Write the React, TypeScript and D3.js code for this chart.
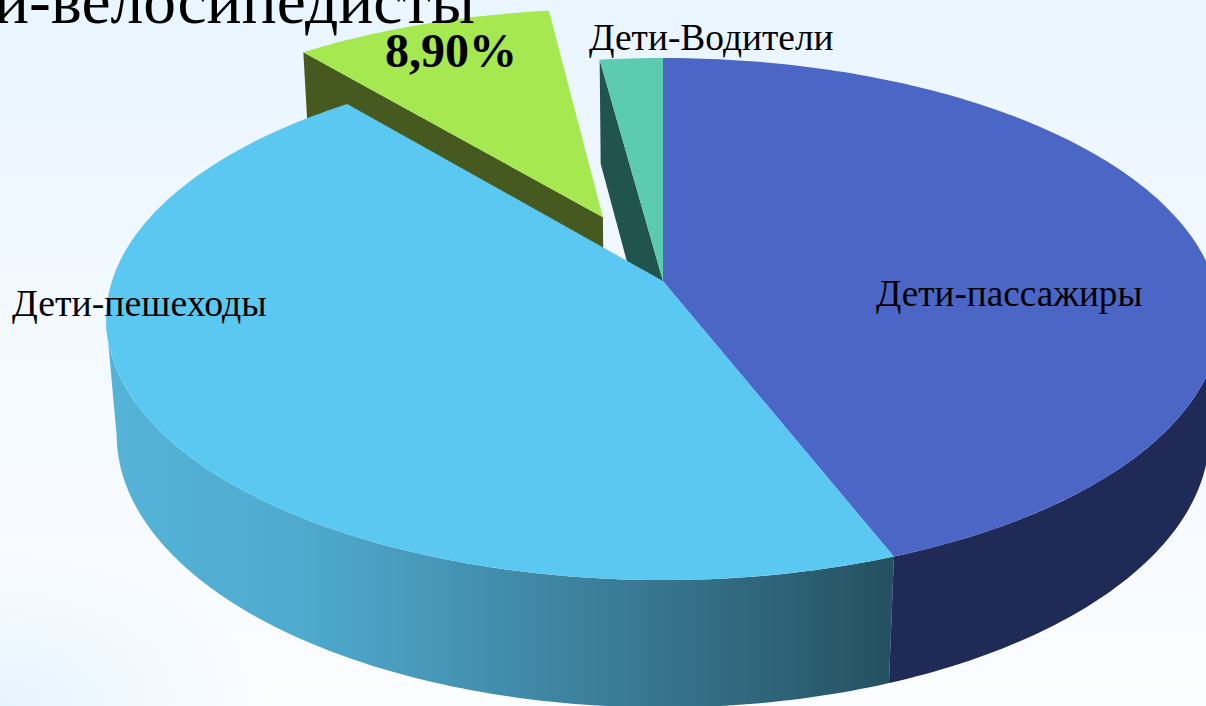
import * as d3 from 'd3';

const WIDTH = 1206;
const HEIGHT = 706;

const categories = ['Дети-пассажиры', 'Дети-пешеходы', 'Дети-велосипедисты', 'Дети-Водители'];
const shares = [44.1, 44.9, 8.9, 2.1];
const explode = [0, 0, 0.283, 0];
const topColors = ['#4c66c6', '#5ac8f0', '#a6e850', '#5ccbb0'];
const sideColors = ['#1f2a56', 'url(#sideGrad)', '#465a1f', '#22544e'];

// perspective of the tilted disc: unit circle -> screen
const cx = 663;
const cy = 281;
const rx = 551;
const ry = 255.5;
const tilt = 0.1456;
const depth = 117;
const shrink = 0.019;

type Pt = [number, number];

const project = (u: number, v: number, h: number): Pt => {
  const w = 1 - tilt * v + shrink * h;
  return [cx + (rx * u) / w, cy + (ry * v + depth * h) / w];
};

const line = d3.line<Pt>();

const pie = d3.pie<number>().sort(null).value(d => d);
const slices = pie(shares);

// the rim only shows between the two silhouette points of the ellipse
const frontStart = Math.acos(-tilt);
const frontEnd = 2 * Math.PI - frontStart;

const rimAngles = (a0: number, a1: number) => {
  const n = Math.max(8, Math.ceil((a1 - a0) * 60));
  return d3.range(n + 1).map(i => a0 + ((a1 - a0) * i) / n);
};

const slicePaths = (index: number) => {
  const s = slices[index];
  const mid = (s.startAngle + s.endAngle) / 2;
  const ou = explode[index] * Math.sin(mid);
  const ov = -explode[index] * Math.cos(mid);
  const at = (a: number, h: number) => project(ou + Math.sin(a), ov - Math.cos(a), h);
  const apex = (h: number) => project(ou, ov, h);
  const top = [apex(0), ...rimAngles(s.startAngle, s.endAngle).map(a => at(a, 0))];
  const a0 = Math.max(s.startAngle, frontStart);
  const a1 = Math.min(s.endAngle, frontEnd);
  const front = a1 > a0 ? rimAngles(a0, a1) : [];
  const outer = [...front.map(a => at(a, 0)), ...front.slice().reverse().map(a => at(a, 1))];
  // radial face along the slice's start edge, the one turned to the viewer
  const face = [apex(0), at(s.startAngle, 0), at(s.startAngle, 1), apex(1)];
  return {
    top: line(top) + 'Z',
    outer: outer.length ? line(outer) + 'Z' : null,
    face: line(face) + 'Z',
  };
};

const drawOrder = [2, 3, 1, 0];

export default function App() {
  return (
    <svg
      width={WIDTH}
      height={HEIGHT}
      viewBox={`0 0 ${WIDTH} ${HEIGHT}`}
      style={{ position: 'absolute', left: 0, top: 0, display: 'block' }}
    >
      <defs>
        <linearGradient id="bgBase" x1="0" y1="0" x2="0" y2="1">
          <stop offset="0" stopColor="#e9f5ff" />
          <stop offset="0.45" stopColor="#f3f9ff" />
          <stop offset="1" stopColor="#fbfdff" />
        </linearGradient>
        <radialGradient id="bgCorner" cx="0" cy="1" r="0.22">
          <stop offset="0" stopColor="#e6f4fe" />
          <stop offset="1" stopColor="#e6f4fe" stopOpacity="0" />
        </radialGradient>
        <linearGradient id="sideGrad" gradientUnits="userSpaceOnUse" x1="120" y1="0" x2="895" y2="0">
          <stop offset="0" stopColor="#55b3d8" />
          <stop offset="0.25" stopColor="#4ea9cd" />
          <stop offset="0.5" stopColor="#428cab" />
          <stop offset="0.75" stopColor="#346f86" />
          <stop offset="1" stopColor="#245060" />
        </linearGradient>
      </defs>
      <rect width={WIDTH} height={HEIGHT} fill="url(#bgBase)" />
      <rect width={WIDTH} height={HEIGHT} fill="url(#bgCorner)" />

      {drawOrder.map(i => {
        const p = slicePaths(i);
        return (
          <g key={categories[i]}>
            {p.outer && <path d={p.outer} fill={sideColors[i]} />}
            {i >= 2 && <path d={p.face} fill={sideColors[i]} />}
            <path d={p.top} fill={topColors[i]} />
          </g>
        );
      })}

      <g fontFamily="'Liberation Serif', serif" fill="#000">
        <text x={475} y={23} fontSize={65.5} textAnchor="end">{categories[2]}</text>
        <text x={385} y={67} fontSize={48} fontWeight="bold">8,90%</text>
        <text x={589} y={50} fontSize={37.4}>{categories[3]}</text>
        <text x={12} y={316} fontSize={37.8}>{categories[1]}</text>
        <text x={876} y={306} fontSize={37.2}>{categories[0]}</text>
      </g>
    </svg>
  );
}
